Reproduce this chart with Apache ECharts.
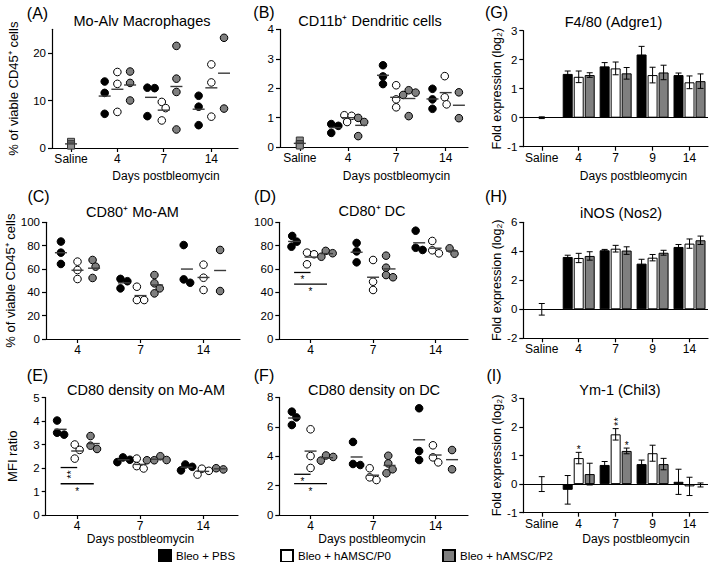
<!DOCTYPE html>
<html><head><meta charset="utf-8">
<script src="https://cdn.jsdelivr.net/npm/echarts@6/dist/echarts.min.js"></script>
<style>html,body{margin:0;padding:0;background:#fff}#c{width:709px;height:562px}</style>
</head><body><div id="c"></div>
<script>
// ---------------- DATA ----------------
const groupNames = ['Bleo + PBS', 'Bleo + hAMSC/P0', 'Bleo + hAMSC/P2'];
const scatterDays = ['4', '7', '14'];
const barCats = ['Saline', '4', '7', '9', '14'];

// (A) Mo-Alv Macrophages, % of viable CD45+ cells; per day [4, 7, 14]
const A_saline = [1.3, 0.8, 0.5];
const A_pbs = [[14.0, 11.6, 7.2], [12.7, 12.6, 6.7], [11.0, 8.7, 4.8]];
const A_p0  = [[16.0, 13.5, 7.6], [9.7, 8.4, 5.8], [17.6, 13.8, 6.6]];
const A_p2  = [[16.1, 13.7, 10.0], [21.5, 14.6, 11.8, 3.9], [23.2, 8.3]];

// (B) CD11b+ Dendritic cells
const B_saline = [0.22, 0.1, 0.05];
const B_pbs = [[0.78, 0.72, 0.48], [2.78, 2.40, 2.14], [1.98, 1.62, 1.30]];
const B_p0  = [[1.08, 1.06, 0.85], [2.10, 1.62, 1.35], [2.41, 1.69, 1.45]];
const B_p2  = [[0.99, 0.85, 0.37], [1.93, 1.85, 1.77, 1.05], [1.86, 0.98]];

// (C) CD80+ Mo-AM
const C_pbs = [[83.5, 74.0, 64.3], [51.5, 49.5, 43.4], [80.5, 51.1, 48.2]];
const C_p0  = [[66.3, 59.1, 51.4], [44.8, 33.4, 33.4], [63.7, 52.5, 42.0]];
const C_p2  = [[67.7, 62.0, 52.3], [54.8, 47.7, 43.4, 39.1], [76.3, 41.1]];

// (D) CD80+ DC
const D_pbs = [[88.3, 83.4, 79.1], [82.3, 75.1, 65.7], [92.8, 78.2, 76.3]];
const D_p0  = [[74.0, 72.6, 64.0], [67.7, 49.1, 42.0], [84.0, 76.0, 73.4]];
const D_p2  = [[75.5, 73.5, 70.5], [71.4, 61.1, 54.8, 52.9], [77.7, 73.1]];
const D_sig = [{day: 0, to: 1, y: 57, n: 1}, {day: 0, to: 2, y: 47, n: 1}];

// (E) CD80 density on Mo-AM (MFI ratio)
const E_pbs = [[4.02, 3.5, 3.42], [2.45, 2.35, 2.25], [2.15, 2.05, 1.9]];
const E_p0  = [[3.0, 2.77, 2.4], [2.4, 2.08, 1.98], [1.97, 1.88, 1.72]];
const E_p2  = [[3.36, 2.95, 2.81], [2.5, 2.34, 2.33, 2.33], [1.99, 1.94]];
const E_sig = [{day: 0, to: 1, y: 2.02, n: 2}, {day: 0, to: 2, y: 1.33, n: 1}];

// (F) CD80 density on DC
const F_pbs = [[7.03, 6.64, 6.12], [4.97, 3.47, 3.4], [7.26, 4.35, 3.74]];
const F_p0  = [[5.83, 4.01, 3.2], [3.18, 2.56, 2.38], [4.74, 3.92, 3.58]];
const F_p2  = [[4.05, 3.95, 3.7], [4.03, 3.51, 3.11, 2.84], [4.42, 3.11]];
const F_sig = [{day: 0, to: 1, y: 2.77, n: 1}, {day: 0, to: 2, y: 2.13, n: 1}];

// (G) F4/80 (Adgre1) fold expression (log2); days [4, 7, 9, 14]
const G_saline = [0, 0.03];
const G_pbs = [1.51, 1.77, 2.18, 1.47], G_pbsErr = [0.10, 0.13, 0.28, 0.07];
const G_p0  = [1.41, 1.70, 1.47, 1.22], G_p0Err  = [0.20, 0.22, 0.27, 0.22];
const G_p2  = [1.47, 1.53, 1.56, 1.26], G_p2Err  = [0.08, 0.20, 0.25, 0.25];

// (H) iNOS (Nos2)
const H_saline = [0, 0.4];
const H_pbs = [3.61, 4.07, 3.15, 4.30], H_pbsErr = [0.12, 0.06, 0.30, 0.17];
const H_p0  = [3.54, 4.18, 3.56, 4.53], H_p0Err  = [0.32, 0.23, 0.22, 0.32];
const H_p2  = [3.68, 4.05, 3.90, 4.76], H_p2Err  = [0.29, 0.26, 0.17, 0.29];

// (I) Ym-1 (Chil3)
const I_saline = [0, 0.26];
const I_pbs = [-0.20, 0.67, 0.70, 0.08], I_pbsErr = [0.50, 0.12, 0.14, 0.44];
const I_p0  = [0.91, 1.74, 1.08, -0.08], I_p0Err  = [0.20, 0.20, 0.28, 0.32];
const I_p2  = [0.35, 1.16, 0.70, -0.03], I_p2Err  = [0.38, 0.10, 0.20, 0.07];
const I_stars = [{cat: 1, s: 1, n: 1}, {cat: 2, s: 1, n: 2}, {cat: 2, s: 2, n: 1}];

// ---------------- STYLE / LAYOUT ----------------
const FONT = '"Liberation Sans", Arial, Helvetica, sans-serif';
const FILL = ['#000000', '#ffffff', '#7f7f7f'];
const BAR_STEP = 11;
const mean = a => a.reduce((s, v) => s + v, 0) / a.length;

const scatterPanels = [
  {grid: {left: 52, top: 29.25, width: 186, height: 118.75}, yMax: 25, yInt: 10, yTicks: [0, 10, 20],
   xMax: 14.65, centers: [5.15, 8.8, 12.55], salX: 1.5, saline: A_saline, groups: [A_pbs, A_p0, A_p2],
   yName: '% of viable CD45⁺ cells', yGap: 32},
  {grid: {left: 280, top: 29.4, width: 188, height: 117.6}, yMax: 4, yInt: 1,
   xMax: 14.24, centers: [5.15, 8.8, 12.55], salX: 1.5, saline: B_saline, groups: [B_pbs, B_p0, B_p2]},
  {grid: {left: 46, top: 222.3, width: 194, height: 116.7}, yMax: 100, yInt: 20,
   xMax: 11.7, centers: [1.9, 5.7, 9.5], groups: [C_pbs, C_p0, C_p2],
   yName: '% of viable CD45⁺ cells', yGap: 29},
  {grid: {left: 279.3, top: 222.3, width: 188.7, height: 116.7}, yMax: 100, yInt: 20,
   xMax: 11.47, centers: [1.9, 5.7, 9.5], groups: [D_pbs, D_p0, D_p2], sig: D_sig},
  {grid: {left: 45.7, top: 397.5, width: 192.3, height: 117.5}, yMax: 5, yInt: 1,
   xMax: 11.6, centers: [1.9, 5.7, 9.5], groups: [E_pbs, E_p0, E_p2], sig: E_sig,
   yName: 'MFI ratio', yGap: 27},
  {grid: {left: 279.3, top: 397.4, width: 188.7, height: 117.6}, yMax: 8, yInt: 2,
   xMax: 11.47, centers: [1.9, 5.7, 9.5], groups: [F_pbs, F_p0, F_p2], sig: F_sig}
];

const barPanels = [
  {grid: {left: 523.3, top: 30.7, width: 184.7, height: 116}, yMin: -1, yMax: 3, yInt: 1,
   vals: [G_pbs, G_p0, G_p2], errs: [G_pbsErr, G_p0Err, G_p2Err], saline: G_saline},
  {grid: {left: 523.3, top: 222.3, width: 184.7, height: 116}, yMin: -2, yMax: 6, yInt: 2,
   vals: [H_pbs, H_p0, H_p2], errs: [H_pbsErr, H_p0Err, H_p2Err], saline: H_saline},
  {grid: {left: 523.3, top: 398.3, width: 184.7, height: 114.4}, yMin: -1, yMax: 3, yInt: 1,
   vals: [I_pbs, I_p0, I_p2], errs: [I_pbsErr, I_p0Err, I_p2Err], saline: I_saline, stars: I_stars}
];

const axisLineStyle = {color: '#000', width: 1.2};
const labelStyle = {color: '#000', fontSize: 11.5, fontFamily: FONT};

function swarm(ys, D) {
  const order = ys.map((y, i) => i).sort((a, b) => ys[a] - ys[b]);
  const xs = ys.map(() => 0);
  const placed = [];
  for (const i of order) {
    const forb = [];
    for (const j of placed) {
      const dy = Math.abs(ys[i] - ys[j]);
      if (dy < D) { const w = Math.sqrt(D * D - dy * dy); forb.push([xs[j] - w, xs[j] + w]); }
    }
    const cands = [0];
    forb.forEach(f => cands.push(f[0], f[1]));
    cands.sort((a, b) => Math.abs(a) - Math.abs(b) || b - a);
    for (const c of cands) {
      if (forb.every(f => c <= f[0] + 1e-6 || c >= f[1] - 1e-6)) { xs[i] = c; break; }
    }
    placed.push(i);
  }
  const mn = Math.min(...xs), mx = Math.max(...xs);
  return xs.map(x => x - (mn + mx) / 2);
}

// Significance asterisks centred at (x, yc): one '*' or a vertical '**' (single rotated text)
function starMark(x, yc, n) {
  if (n === 1) return {type: 'text', x, y: yc + 2.5, silent: true,
    style: {text: '*', fill: '#000', font: '10px ' + FONT, align: 'center', verticalAlign: 'middle'}};
  return {type: 'text', x: x + 2.5, y: yc, rotation: Math.PI / 2, silent: true,
    style: {text: '**', fill: '#000', font: '11px ' + FONT, align: 'center', verticalAlign: 'middle'}};
}

const grids = [], xAxes = [], yAxes = [], series = [];

scatterPanels.forEach((P, idx) => {
  grids.push(Object.assign({outerBoundsMode: 'none', containLabel: false}, P.grid));
  const ticks = (P.saline ? [P.salX] : []).concat(P.centers);
  const labels = (P.saline ? ['Saline'] : []).concat(scatterDays);
  xAxes.push({
    gridIndex: idx, type: 'value', min: 0, max: P.xMax, splitLine: {show: false},
    axisLine: {show: true, onZero: false, lineStyle: axisLineStyle},
    axisTick: {show: true, length: 4, customValues: ticks, lineStyle: axisLineStyle},
    axisLabel: {customValues: ticks, margin: 5, fontSize: 12, color: '#000', fontFamily: FONT,
      formatter: v => { const i = ticks.findIndex(t => Math.abs(t - v) < 1e-6); return i >= 0 ? labels[i] : ''; }}
  });
  const yTicks = P.yTicks;
  yAxes.push({
    gridIndex: idx, type: 'value', min: 0, max: P.yMax, interval: P.yInt, splitLine: {show: false},
    axisLine: {show: true, onZero: false, lineStyle: axisLineStyle},
    axisTick: Object.assign({show: true, length: 4, lineStyle: axisLineStyle}, yTicks ? {customValues: yTicks} : {}),
    axisLabel: Object.assign({margin: 6}, labelStyle, yTicks ? {customValues: yTicks} : {}),
    name: P.yName || '', nameLocation: 'middle', nameGap: P.yGap || 0,
    nameTextStyle: {color: '#000', fontSize: 13, fontFamily: FONT}
  });
  const subs = [];
  if (P.saline) subs.push({x: P.salX, vals: P.saline, k: 2, sal: true});
  P.centers.forEach((c, d) => {
    for (let k = 0; k < 3; k++) subs.push({x: c + (k - 1), vals: P.groups[k][d], k});
  });
  series.push({
    type: 'custom', xAxisIndex: idx, yAxisIndex: idx, z: 5, silent: true,
    data: subs.map(s => [s.x, mean(s.vals)]),
    renderItem(params, api) {
      const s = subs[params.dataIndex];
      const cx = api.coord([s.x, 0])[0];
      const ys = s.vals.map(v => api.coord([s.x, v])[1]);
      const offs = s.sal ? ys.map(() => 0) : swarm(ys, 7.3);
      const children = [];
      ys.forEach((y, i) => {
        if (s.sal) children.push({type: 'rect', shape: {x: cx - 3.5, y: y - 3.5, width: 7, height: 7},
          style: {fill: '#8c8c8c', stroke: '#333', lineWidth: 1}});
        else children.push({type: 'circle', shape: {cx: cx + offs[i], cy: y, r: 3.8},
          style: {fill: FILL[s.k], stroke: '#000', lineWidth: 1}});
      });
      const my = api.coord([s.x, mean(s.vals)])[1];
      children.push({type: 'line', shape: {x1: cx - 6, y1: my, x2: cx + 6, y2: my},
        style: {stroke: '#3a3a3a', lineWidth: 1.4}});
      return {type: 'group', children};
    }
  });
  if (P.sig) {
    const sigs = P.sig;
    series.push({
      type: 'custom', xAxisIndex: idx, yAxisIndex: idx, z: 6, silent: true,
      data: sigs.map(s => [P.centers[s.day], s.y]),
      renderItem(params, api) {
        const s = sigs[params.dataIndex];
        const c = P.centers[s.day];
        const p1 = api.coord([c - 1, s.y]), p2 = api.coord([c - 1 + s.to, s.y]);
        const mid = (p1[0] + p2[0]) / 2;
        return {type: 'group', children: [
          {type: 'line', shape: {x1: p1[0], y1: p1[1], x2: p2[0], y2: p2[1]}, style: {stroke: '#000', lineWidth: 1.3}},
          starMark(mid, p1[1] + (s.n === 1 ? 5 : 7), s.n)]};
      }
    });
  }
});

barPanels.forEach((P, j) => {
  const idx = scatterPanels.length + j;
  grids.push(Object.assign({outerBoundsMode: 'none', containLabel: false}, P.grid));
  xAxes.push({
    gridIndex: idx, type: 'category', data: barCats,
    axisLine: {show: true, onZero: false, lineStyle: axisLineStyle},
    axisTick: {show: true, alignWithLabel: true, interval: 0, length: 4, lineStyle: axisLineStyle},
    axisLabel: {interval: 0, margin: 5, color: '#000', fontSize: 12, fontFamily: FONT, hideOverlap: false}
  });
  yAxes.push({
    gridIndex: idx, type: 'value', min: P.yMin, max: P.yMax, interval: P.yInt, splitLine: {show: false},
    axisLine: {show: true, onZero: false, lineStyle: axisLineStyle},
    axisTick: {show: true, length: 4, lineStyle: axisLineStyle},
    axisLabel: Object.assign({margin: 6}, labelStyle),
    name: 'Fold expression (log₂)', nameLocation: 'middle', nameGap: 16,
    nameTextStyle: {color: '#000', fontSize: 12.5, fontFamily: FONT}
  });
  for (let s = 0; s < 3; s++) {
    const ser = {
      type: 'bar', name: groupNames[s], xAxisIndex: idx, yAxisIndex: idx,
      data: ['-'].concat(P.vals[s]), barWidth: 10, barGap: '10%',
      itemStyle: {color: FILL[s], borderColor: '#000', borderWidth: 1}, silent: true
    };
    if (s === 0) ser.markLine = {symbol: 'none', silent: true, label: {show: false},
      lineStyle: {color: '#000', width: 1.2, type: 'solid'}, data: [{yAxis: 0}]};
    series.push(ser);
  }
  const edata = [[0, P.saline[0], P.saline[1], 1]];
  for (let s = 0; s < 3; s++) for (let c = 0; c < 4; c++) edata.push([c + 1, P.vals[s][c], P.errs[s][c], s]);
  series.push({
    type: 'custom', xAxisIndex: idx, yAxisIndex: idx, z: 5, silent: true, data: edata,
    renderItem(params, api) {
      const c = api.value(0), v = api.value(1), e = api.value(2), s = api.value(3);
      const p1 = api.coord([c, v + e]), p2 = api.coord([c, v - e]);
      const x = p1[0] + (s - 1) * BAR_STEP;
      const st = {stroke: '#000', lineWidth: 1};
      return {type: 'group', children: [
        {type: 'line', shape: {x1: x, y1: p1[1], x2: x, y2: p2[1]}, style: st},
        {type: 'line', shape: {x1: x - 3, y1: p1[1], x2: x + 3, y2: p1[1]}, style: st},
        {type: 'line', shape: {x1: x - 3, y1: p2[1], x2: x + 3, y2: p2[1]}, style: st}]};
    }
  });
  if (P.stars) {
    const stars = P.stars;
    series.push({
      type: 'custom', xAxisIndex: idx, yAxisIndex: idx, z: 6, silent: true,
      data: stars.map(a => [a.cat, P.vals[a.s][a.cat - 1] + P.errs[a.s][a.cat - 1]]),
      renderItem(params, api) {
        const a = stars[params.dataIndex];
        const p = api.coord([api.value(0), api.value(1)]);
        const x = p[0] + (a.s - 1) * BAR_STEP;
        return starMark(x, p[1] - (a.n === 1 ? 5 : 7), a.n);
      }
    });
  }
});

const txt = (text, x, y, size) => ({type: 'text', x, y, silent: true,
  style: {text, fill: '#000', font: size + 'px ' + FONT, align: 'center', verticalAlign: 'middle'}});

const graphic = [
  txt('(A)', 37.5, 13.5, 16), txt('(B)', 264, 12.5, 16), txt('(G)', 496.5, 12.5, 16),
  txt('(C)', 38.5, 196.5, 16), txt('(D)', 265, 196.5, 16), txt('(H)', 496, 196.5, 16),
  txt('(E)', 37.5, 375, 16), txt('(F)', 264, 375, 16), txt('(I)', 494, 375, 16),
  txt('Mo-Alv Macrophages', 142, 21, 14.5), txt('CD11b⁺ Dendritic cells', 370, 20.5, 14.5),
  txt('F4/80 (Adgre1)', 613.5, 22, 14.5),
  txt('CD80⁺ Mo-AM', 132.5, 211.5, 14.5), txt('CD80⁺ DC', 372, 211, 14.5), txt('iNOS (Nos2)', 621, 212.5, 14.5),
  txt('CD80 density on Mo-AM', 146, 390, 14.5), txt('CD80 density on DC', 374, 390, 14.5),
  txt('Ym-1 (Chil3)', 620, 390, 14.5),
  txt('Days postbleomycin', 166, 176, 12), txt('Days postbleomycin', 396.5, 176, 12),
  txt('Days postbleomycin', 633.5, 176, 12),
  txt('Days postbleomycin', 140.5, 539, 12), txt('Days postbleomycin', 372, 539, 12),
  txt('Days postbleomycin', 636, 539, 12)
];

const legendLeft = [158, 280, 442];
const legends = groupNames.map((n, i) => ({
  data: [n], left: legendLeft[i], top: 549, itemWidth: 12, itemHeight: 12, icon: 'rect',
  selectedMode: false, itemGap: 5, padding: 0,
  textStyle: {color: '#000', fontSize: 11.5, fontFamily: FONT}
}));

const chart = echarts.init(document.getElementById('c'), null, {renderer: 'svg'});
chart.setOption({
  animation: false, backgroundColor: '#fff',
  textStyle: {fontFamily: FONT},
  grid: grids, xAxis: xAxes, yAxis: yAxes, series, graphic, legend: legends
});
</script>
</body></html>
